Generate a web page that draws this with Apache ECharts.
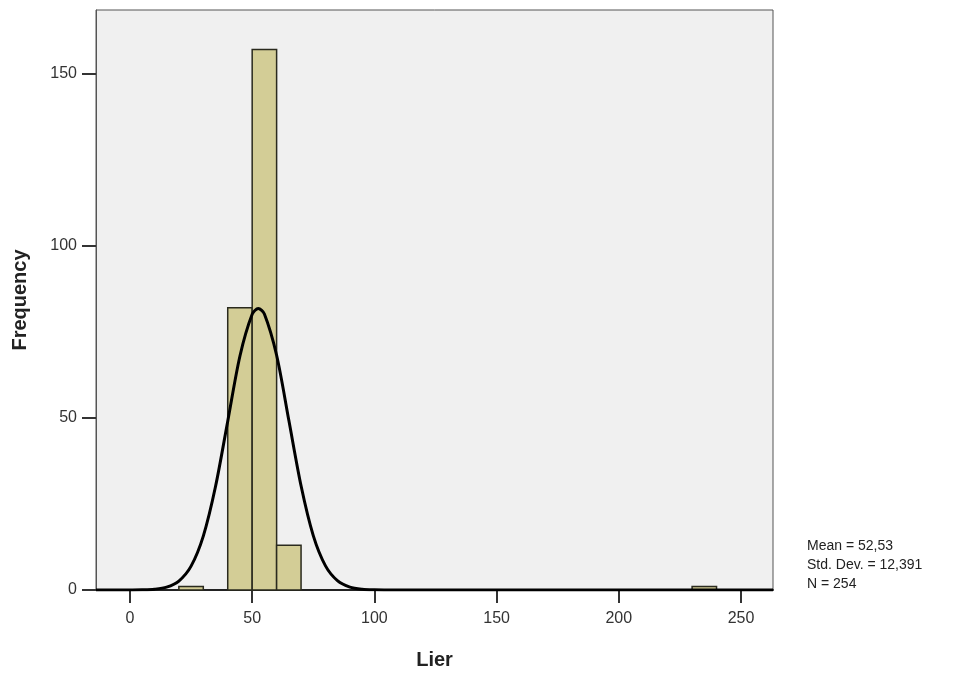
<!DOCTYPE html>
<html>
<head>
<meta charset="utf-8">
<script src="https://cdn.jsdelivr.net/npm/echarts@6/dist/echarts.min.js"></script>
<style>html,body{margin:0;padding:0;background:#fff;}#c{width:959px;height:675px;}</style>
</head>
<body>
<div id="c"></div>
<script>
// Histogram bins: [start, end]
var binStarts = [20, 40, 50, 60, 230];
var binEnds   = [30, 50, 60, 70, 240];
var binCounts = [1, 82, 157, 13, 1];
// Normal curve points
var curveX = [-13.9, -10, -5, 0, 5, 10, 15, 20, 25, 30, 35, 40, 45, 50, 52.5, 55, 60, 65, 70, 75, 80, 85, 90, 95, 100, 105, 110, 150, 200, 263.1];
var curveY = [0, 0, 0, 0.01, 0.05, 0.23, 0.83, 2.61, 6.93, 15.66, 30.06, 49.04, 67.99, 80.09, 81.78, 80.17, 68.19, 49.29, 30.27, 15.8, 7.01, 2.64, 0.85, 0.23, 0.05, 0.01, 0, 0, 0, 0];
var xTicks = [0, 50, 100, 150, 200, 250];
var yTicks = [0, 50, 100, 150];
var statLines = ['Mean = 52,53', 'Std. Dev. = 12,391', 'N = 254'];

var bars = binStarts.map(function (s, i) { return [s, binEnds[i], binCounts[i]]; });
var curve = curveX.map(function (x, i) { return [x, curveY[i]]; });

var chart = echarts.init(document.getElementById('c'));
var font = 'Liberation Sans, Arial, sans-serif';
chart.setOption({
  animation: false,
  backgroundColor: '#fff',
  grid: {left: 96, top: 10, right: 186, bottom: 81, show: true, backgroundColor: '#f0f0f0', borderColor: '#555', borderWidth: 1},
  xAxis: {
    type: 'value', min: -13.9, max: 263.1, interval: 50,
    name: 'Lier', nameLocation: 'middle', nameGap: 60,
    nameTextStyle: {fontFamily: font, fontSize: 20, fontWeight: 'bold', color: '#222'},
    axisLine: {show: true, onZero: false, lineStyle: {color: '#222', width: 2}},
    axisTick: {show: true, length: 13, lineStyle: {color: '#333', width: 2}, customValues: xTicks},
    axisLabel: {fontFamily: font, fontSize: 16, color: '#333', margin: 21, customValues: xTicks},
    splitLine: {show: false}
  },
  yAxis: {
    type: 'value', min: 0, max: 168.5, interval: 50,
    name: 'Frequency', nameLocation: 'middle', nameGap: 66, nameRotate: 90,
    nameTextStyle: {fontFamily: font, fontSize: 20, fontWeight: 'bold', color: '#222'},
    axisLine: {show: true, onZero: false, lineStyle: {color: '#555', width: 1}},
    axisTick: {show: true, length: 14, lineStyle: {color: '#333', width: 2}, customValues: yTicks},
    axisLabel: {fontFamily: font, fontSize: 16, color: '#333', margin: 19, customValues: yTicks},
    splitLine: {show: false}
  },
  series: [
    {
      type: 'custom',
      data: bars,
      renderItem: function (params, api) {
        var p0 = api.coord([api.value(0), 0]);
        var p1 = api.coord([api.value(1), api.value(2)]);
        return {
          type: 'rect',
          shape: {x: p0[0], y: p1[1], width: p1[0] - p0[0], height: p0[1] - p1[1]},
          style: {fill: '#d3cd96', stroke: '#2a2a1e', lineWidth: 1.5}
        };
      },
      encode: {x: [0, 1], y: 2}
    },
    {
      type: 'line', data: curve, smooth: 0.3, showSymbol: false,
      lineStyle: {color: '#000', width: 3}
    }
  ],
  graphic: statLines.map(function (t, i) {
    return {type: 'text', left: 807, top: 539 + i * 19, style: {text: t, fontFamily: font, fontSize: 14, fill: '#222'}};
  })
});
</script>
</body>
</html>
